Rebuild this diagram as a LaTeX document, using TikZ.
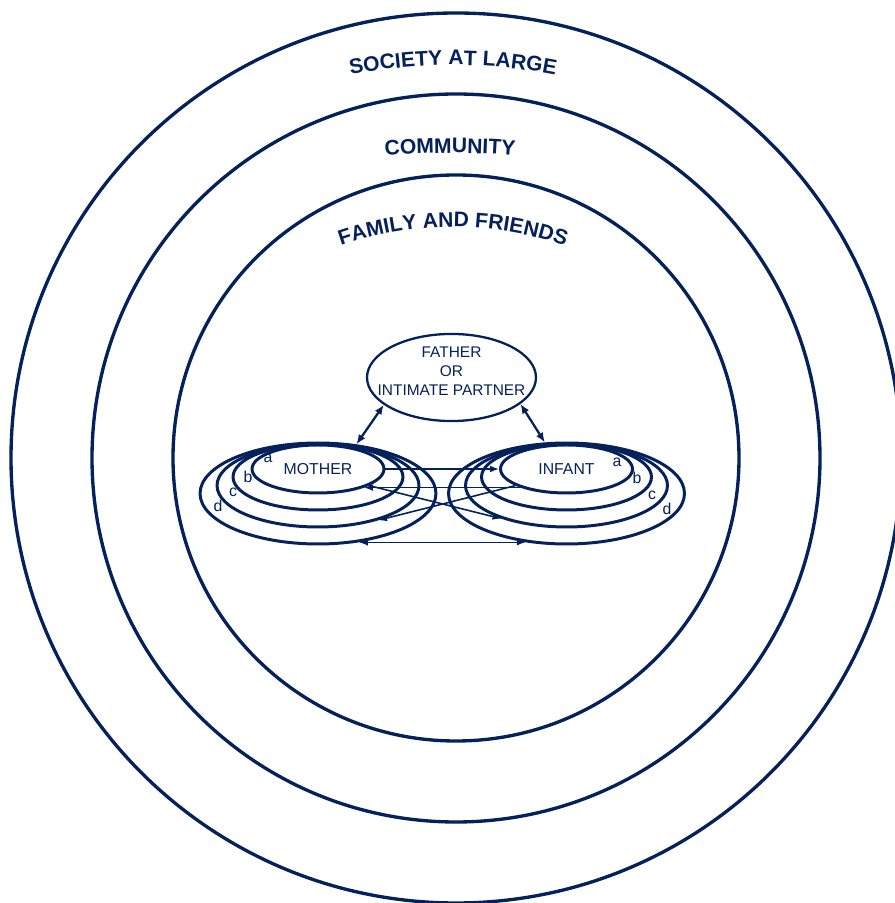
\documentclass[tikz,border=0pt]{standalone}
\usepackage{fontspec}
\setmainfont{Liberation Sans}
\usetikzlibrary{arrows.meta, shapes.geometric, positioning, calc, decorations.text}
\definecolor{navy}{RGB}{4,33,92}
\newcommand{\ringfont}{\bfseries\fontsize{12}{14}\selectfont}
\tikzset{
    layer/.style = {draw=navy, line width=1.9pt},
    ring/.style = {ellipse, draw=navy, line width=1.7pt, inner sep=0pt, text=navy, font=\fontsize{9}{11}\selectfont},
    partner/.style = {ellipse, draw=navy, line width=1.3pt, inner xsep=-9pt, inner ysep=0pt, align=center, text=navy, font=\fontsize{8.8}{10.8}\selectfont},
    tag/.style = {text=navy, font=\fontsize{9}{11}\selectfont, inner sep=0pt},
    line/.style = {draw=navy, -{Latex[length=5pt, width=3.8pt]}, line width=0.9pt},
    bothline/.style = {draw=navy, {Latex[length=5pt, width=3.8pt]}-{Latex[length=5pt, width=3.8pt]}, line width=0.9pt},
    tie/.style = {draw=navy, {Latex[length=5.5pt, width=4.5pt]}-{Latex[length=5.5pt, width=4.5pt]}, line width=1.3pt},
    arctext/.style = {decorate, decoration={text along path, text align=center, text color=navy, text={#1}}}
}

\begin{document}
\begin{tikzpicture}[x=0.02cm, y=0.02cm]
        \useasboundingbox (0,0) rectangle (895,903);
        \clip (0,0) rectangle (895,903);

        % Social layers
        \coordinate (hub) at (456,445);
        \draw [layer] (hub) circle[radius=445];
        \draw [layer] (hub) circle[radius=364];
        \draw [layer] (hub) circle[radius=283];

        % Layer titles
        \path [arctext={|\ringfont|SOCIETY AT LARGE}] (453,308) ++(115:530) arc[start angle=115, end angle=65, radius=530];
        \path [arctext={|\ringfont|COMMUNITY}] (450,-50) ++(100:800) arc[start angle=100, end angle=80, radius=800];
        \path [arctext={|\ringfont|FAMILY AND FRIENDS}] (453,336) ++(125:340) arc[start angle=125, end angle=55, radius=340];

        % Father
        \node [partner, minimum width=3.38cm, minimum height=1.7cm] (father) at (451.5,525.5) {FATHER\\OR\\INTIMATE PARTNER\\[-3.4pt]\mbox{}};

        % Mother rings
        \node [ring, minimum width=2.64cm, minimum height=0.96cm] (ma) at (318,434) {MOTHER};
        \node [ring, minimum width=3.4cm, minimum height=1.32cm] (mb) at (318,426) {};
        \node [ring, minimum width=4.04cm, minimum height=1.66cm] (mc) at (318,417.5) {};
        \node [ring, minimum width=4.72cm, minimum height=2.02cm] (md) at (318,409.5) {};

        % Infant rings
        \node [ring, minimum width=2.64cm, minimum height=0.96cm] (ia) at (566.5,434) {INFANT};
        \node [ring, minimum width=3.4cm, minimum height=1.32cm] (ib) at (566.5,426) {};
        \node [ring, minimum width=4.04cm, minimum height=1.66cm] (ic) at (566.5,417.5) {};
        \node [ring, minimum width=4.72cm, minimum height=2.02cm] (id) at (566.5,409.5) {};

        % Ring letters
        \node [tag] (mtaga) at (268,445) {a};
        \node [tag] (mtagb) at (248,426) {b};
        \node [tag] (mtagc) at (233,411) {c};
        \node [tag] (mtagd) at (218,397) {d};
        \node [tag] (itaga) at (617,441) {a};
        \node [tag] (itagb) at (637,425) {b};
        \node [tag] (itagc) at (652,408) {c};
        \node [tag] (itagd) at (667,394) {d};

        % Father links
        \path [tie] (father.202) -- (md.52);
        \path [tie] (father.-21) -- (id.113);

        % Mother - infant links
        \path [line] (ma.east) -- (ia.west);
        \path [line] (ia.202) -- (ma.-22);
        \path [line] (ma.-18) -- (ic.207);
        \path [line] (ia.198) -- (mc.-30);
        \path [bothline] (md.-50) -- (id.230);

    \end{tikzpicture}
\end{document}
